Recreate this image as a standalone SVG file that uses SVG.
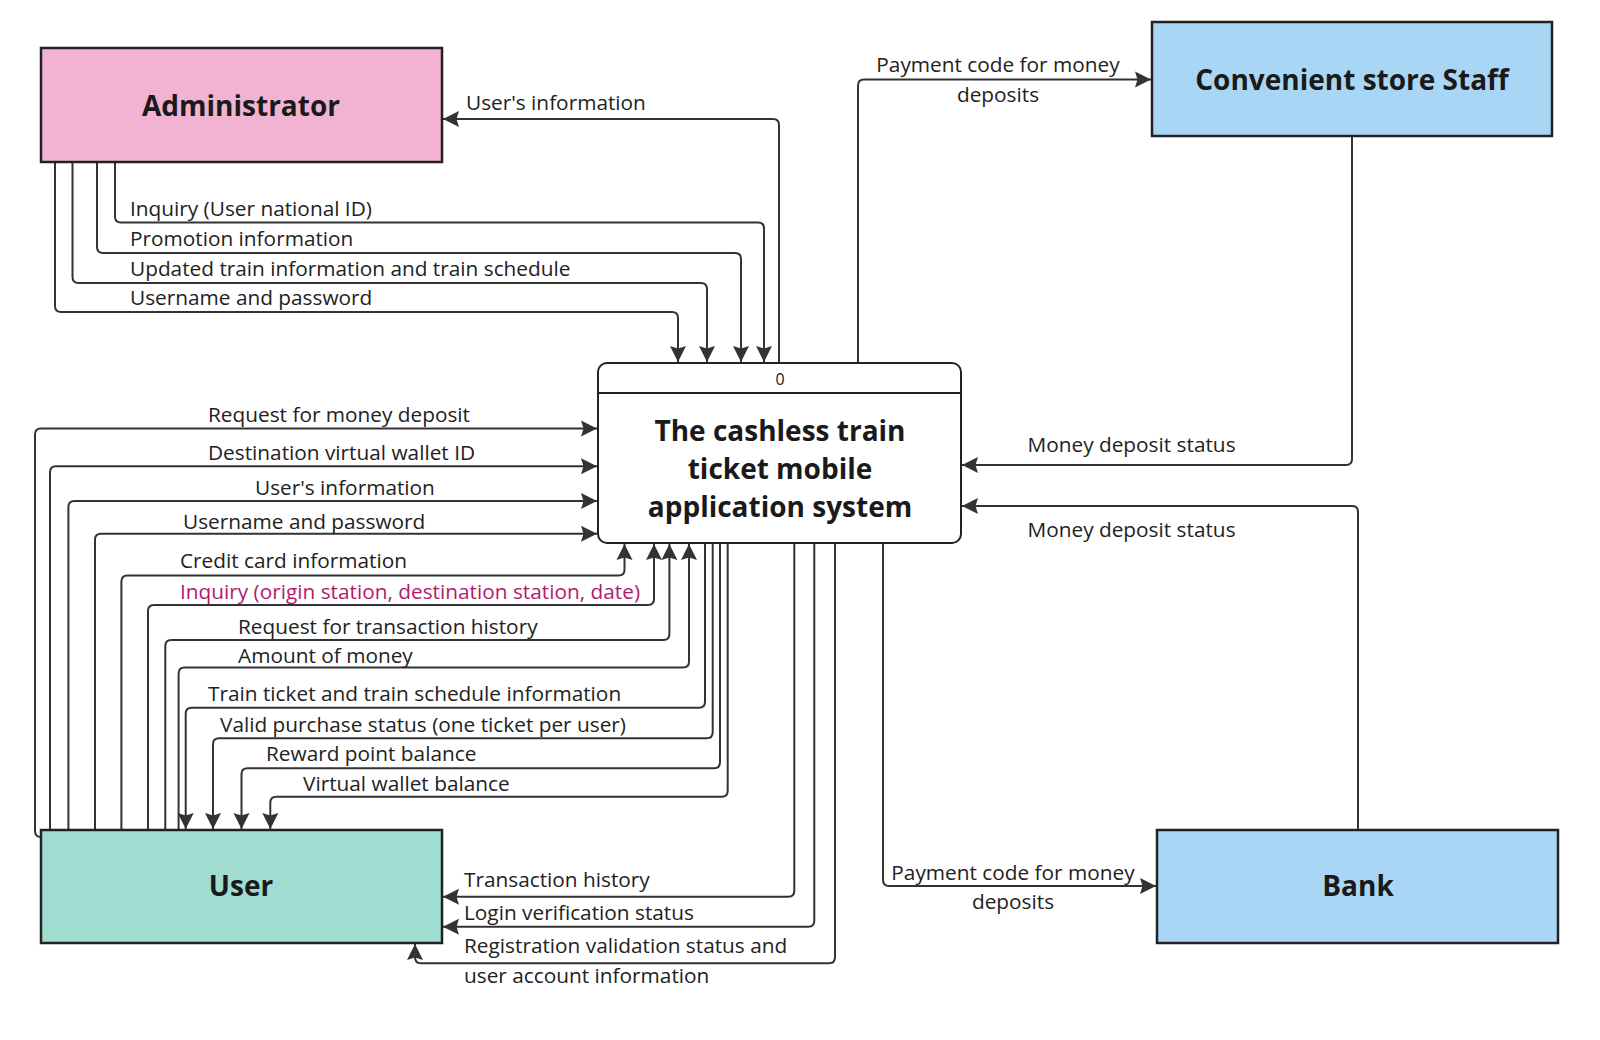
<svg xmlns="http://www.w3.org/2000/svg" width="1600" height="1040" viewBox="0 0 1600 1040">
<style>
.ent{stroke:#222;stroke-width:2.5}
.title{font-family:"Open Sans","Noto Sans",sans-serif;font-weight:bold;font-size:28px;fill:#1a1a1a;text-anchor:middle}
.lbl{font-family:"Open Sans","Noto Sans",sans-serif;font-size:20.8px;fill:#222}
.mid{text-anchor:middle}
.pink{fill:#b4196e}
.flow{fill:none;stroke:#333;stroke-width:2;marker-end:url(#arr)}
</style>
<defs>
<marker id="arr" markerUnits="userSpaceOnUse" markerWidth="18" markerHeight="18" refX="16" refY="9" orient="auto">
<path d="M0,1 L16,9 L0,17 L2.5,9 z" fill="#333"/>
</marker>
</defs>
<rect x="0" y="0" width="1600" height="1040" fill="#ffffff"/>

<g id="connectors">
<!-- Administrator flows -->
<path class="flow" d="M779,363 V125 Q779,119 773,119 H443"/>
<path class="flow" d="M115,163 V216.5 Q115,222.5 121,222.5 H758 Q764,222.5 764,228.5 V362"/>
<path class="flow" d="M97,163 V247 Q97,253 103,253 H735 Q741,253 741,259 V362"/>
<path class="flow" d="M72.5,163 V277 Q72.5,283 78.5,283 H701 Q707,283 707,289 V362"/>
<path class="flow" d="M55,163 V306 Q55,312 61,312 H672 Q678,312 678,318 V362"/>
<!-- User to process -->
<path class="flow" d="M41,837 Q35,837 35,831 V434.6 Q35,428.6 41,428.6 H597"/>
<path class="flow" d="M50,830 V472.3 Q50,466.3 56,466.3 H597"/>
<path class="flow" d="M68.4,830 V507 Q68.4,501 74.4,501 H597"/>
<path class="flow" d="M95,830 V539.7 Q95,533.7 101,533.7 H597"/>
<path class="flow" d="M121.4,830 V581.5 Q121.4,575.5 127.4,575.5 H618.5 Q624.5,575.5 624.5,569.5 V544"/>
<path class="flow" d="M148,830 V611 Q148,605 154,605 H648 Q654,605 654,599 V544"/>
<path class="flow" d="M165.3,830 V646 Q165.3,640 171.3,640 H663.4 Q669.4,640 669.4,634 V544"/>
<path class="flow" d="M178.6,830 V673.4 Q178.6,667.4 184.6,667.4 H683 Q689,667.4 689,661.4 V544"/>
<!-- Process to User -->
<path class="flow" d="M705,543 V701.7 Q705,707.7 699,707.7 H191.7 Q185.7,707.7 185.7,713.7 V829"/>
<path class="flow" d="M712.7,543 V732.3 Q712.7,738.3 706.7,738.3 H219 Q213,738.3 213,744.3 V829"/>
<path class="flow" d="M720,543 V762.3 Q720,768.3 714,768.3 H247.5 Q241.5,768.3 241.5,774.3 V829"/>
<path class="flow" d="M727.7,543 V790.7 Q727.7,796.7 721.7,796.7 H276.3 Q270.3,796.7 270.3,802.7 V829"/>
<path class="flow" d="M794.3,543 V890.7 Q794.3,896.7 788.3,896.7 H443"/>
<path class="flow" d="M814.3,543 V920.7 Q814.3,926.7 808.3,926.7 H443"/>
<path class="flow" d="M835,543 V957.3 Q835,963.3 829,963.3 H421 Q415,963.3 415,957.3 V944"/>
<!-- Right side -->
<path class="flow" d="M858,363 V85.6 Q858,79.6 864,79.6 H1151"/>
<path class="flow" d="M1352,137 V459 Q1352,465 1346,465 H962"/>
<path class="flow" d="M1358,830 V512 Q1358,506 1352,506 H962"/>
<path class="flow" d="M883,543 V880 Q883,886 889,886 H1156"/>

<!-- labels -->
<text class="lbl" x="466" y="110">User's information</text>
<text class="lbl" x="130" y="216">Inquiry (User national ID)</text>
<text class="lbl" x="130" y="246">Promotion information</text>
<text class="lbl" x="130" y="275.5">Updated train information and train schedule</text>
<text class="lbl" x="130" y="305">Username and password</text>

<text class="lbl" x="208" y="422">Request for money deposit</text>
<text class="lbl" x="208" y="460">Destination virtual wallet ID</text>
<text class="lbl" x="255" y="495">User's information</text>
<text class="lbl" x="183" y="529">Username and password</text>
<text class="lbl" x="180" y="568">Credit card information</text>
<text class="lbl pink" x="180" y="599">Inquiry (origin station, destination station, date)</text>
<text class="lbl" x="238" y="633.5">Request for transaction history</text>
<text class="lbl" x="238" y="663">Amount of money</text>
<text class="lbl" x="208" y="701">Train ticket and train schedule information</text>
<text class="lbl" x="220" y="731.5">Valid purchase status (one ticket per user)</text>
<text class="lbl" x="266" y="761">Reward point balance</text>
<text class="lbl" x="303" y="791">Virtual wallet balance</text>

<text class="lbl" x="464" y="886.6">Transaction history</text>
<text class="lbl" x="464" y="920">Login verification status</text>
<text class="lbl" x="464" y="953">Registration validation status and</text>
<text class="lbl" x="464" y="982.5">user account information</text>

<text class="lbl mid" x="998" y="72">Payment code for money</text>
<text class="lbl mid" x="998" y="102">deposits</text>
<text class="lbl" x="1027.5" y="452">Money deposit status</text>
<text class="lbl" x="1027.5" y="536.6">Money deposit status</text>
<text class="lbl mid" x="1013" y="879.5">Payment code for money</text>
<text class="lbl mid" x="1013" y="909">deposits</text>
</g>

<g id="administrator">
<rect class="ent" x="41" y="48" width="401" height="114" fill="#f1b3d1"/>
<text class="title" x="241" y="116">Administrator</text>
</g>

<g id="store-staff">
<rect class="ent" x="1152" y="22" width="400" height="114" fill="#aad6f5"/>
<text class="title" x="1352" y="90">Convenient store Staff</text>
</g>

<g id="user">
<rect class="ent" x="41" y="830" width="401" height="113" fill="#a1dcd0"/>
<text class="title" x="241" y="896">User</text>
</g>

<g id="bank">
<rect class="ent" x="1157" y="830" width="401" height="113" fill="#aad6f5"/>
<text class="title" x="1358" y="896">Bank</text>
</g>

<g id="process">
<rect x="598" y="363" width="363" height="180" rx="9" fill="#ffffff" stroke="#222" stroke-width="2"/>
<line x1="598" y1="393" x2="961" y2="393" stroke="#222" stroke-width="2"/>
<text x="780" y="385" font-family="Open Sans, sans-serif" font-size="16" fill="#222" text-anchor="middle">0</text>
<text class="title" x="780" y="441">The cashless train</text>
<text class="title" x="780" y="479">ticket mobile</text>
<text class="title" x="780" y="517">application system</text>
</g>
</svg>
